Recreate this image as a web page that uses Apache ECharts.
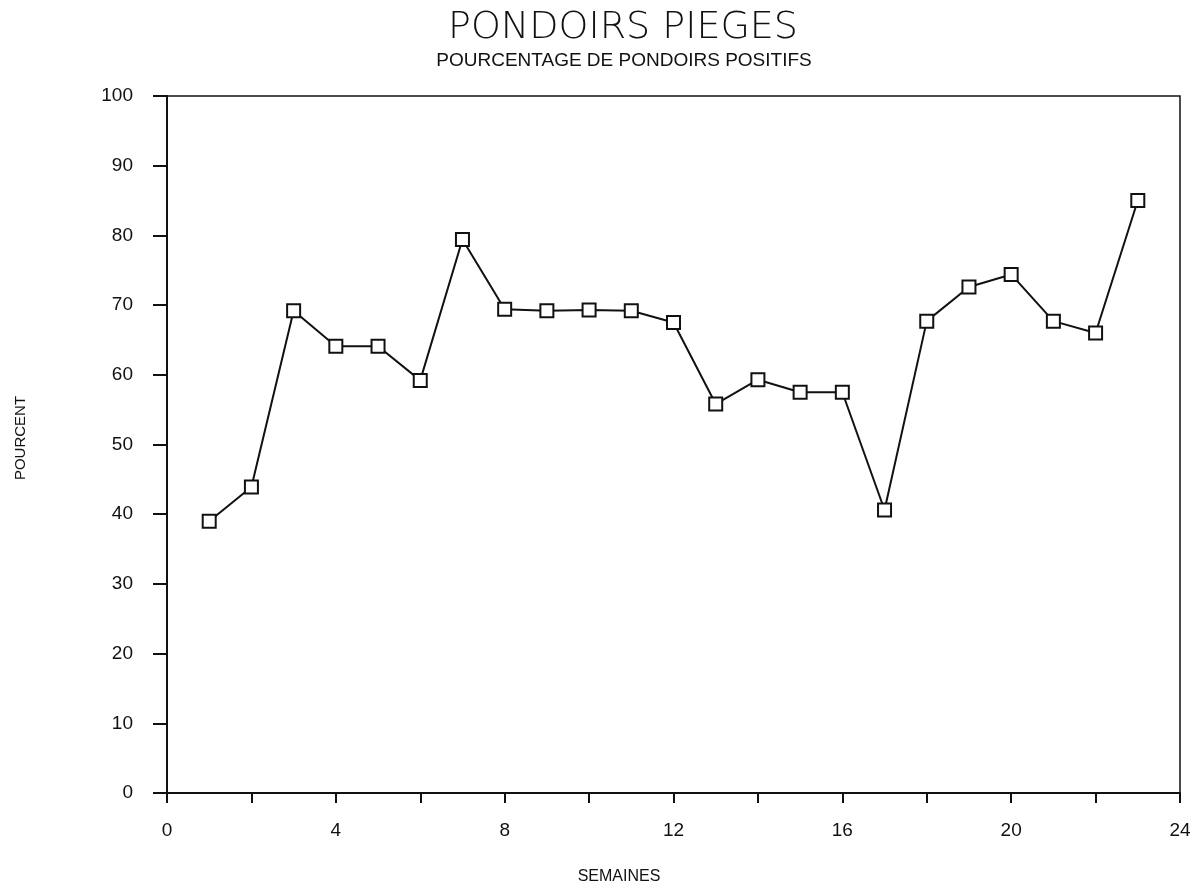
<!DOCTYPE html>
<html>
<head>
<meta charset="utf-8">
<title>PONDOIRS PIEGES</title>
<script src="https://cdn.jsdelivr.net/npm/echarts@6/dist/echarts.min.js"></script>
<style>
  html, body { margin: 0; padding: 0; background: #fff; }
  #chart { width: 1199px; height: 887px; }
</style>
</head>
<body>
<div id="chart"></div>
<script>
// Weekly share of positive egg traps (%)
const weeks = [1, 2, 3, 4, 5, 6, 7, 8, 9, 10, 11, 12, 13, 14, 15, 16, 17, 18, 19, 20, 21, 22, 23];
const percentPositive = [39.0, 43.9, 69.2, 64.1, 64.1, 59.2, 79.4, 69.4, 69.2, 69.3, 69.2, 67.5,
                         55.8, 59.3, 57.5, 57.5, 40.6, 67.7, 72.6, 74.4, 67.7, 66.0, 85.0];
const xTickLabels = [0, 4, 8, 12, 16, 20, 24];
const yTickLabels = [0, 10, 20, 30, 40, 50, 60, 70, 80, 90, 100];

const titleText = 'PONDOIRS PIEGES';
const subtitleText = 'POURCENTAGE DE PONDOIRS POSITIFS';
const xName = 'SEMAINES';
const yName = 'POURCENT';

const points = weeks.map((w, i) => [w, percentPositive[i]]);

const chart = echarts.init(document.getElementById('chart'), null, { renderer: 'canvas' });

const ink = '#111';
const labelFont = 'Liberation Sans, Arial, sans-serif';

chart.setOption({
  backgroundColor: '#fff',
  animation: false,
  grid: {
    left: 167, right: 19, top: 96, bottom: 94,
    show: true, borderColor: ink, borderWidth: 1.5, backgroundColor: 'transparent'
  },
  graphic: [
    { type: 'text', style: { text: titleText, x: 623, y: 28, textAlign: 'center', textVerticalAlign: 'middle',
        font: '200 38px "DejaVu Sans", sans-serif', fill: ink } },
    { type: 'text', style: { text: subtitleText, x: 624, y: 61, textAlign: 'center', textVerticalAlign: 'middle',
        font: '19px "Liberation Sans", Arial, sans-serif', fill: ink } },
    { type: 'text', style: { text: xName, x: 619, y: 877, textAlign: 'center', textVerticalAlign: 'middle',
        font: '16px "Liberation Sans", Arial, sans-serif', fill: ink } },
    { type: 'text', x: 21, y: 438, rotation: Math.PI / 2,
      style: { text: yName, x: 0, y: 0, textAlign: 'center', textVerticalAlign: 'middle',
        font: '15px "Liberation Sans", Arial, sans-serif', fill: ink } }
  ],
  xAxis: {
    type: 'value', min: 0, max: 24, interval: 2,
    axisLine: { show: true, onZero: false, lineStyle: { color: ink, width: 2 } },
    axisTick: { show: true, inside: false, length: 10, lineStyle: { color: ink, width: 2 } },
    axisLabel: {
      margin: 28, color: ink, fontSize: 19, fontFamily: labelFont,
      formatter: v => (xTickLabels.indexOf(v) >= 0 ? String(v) : '')
    },
    splitLine: { show: false }
  },
  yAxis: {
    type: 'value', min: 0, max: 100, interval: 10,
    axisLine: { show: true, onZero: false, lineStyle: { color: ink, width: 2 } },
    axisTick: { show: true, inside: false, length: 14, lineStyle: { color: ink, width: 2 } },
    axisLabel: {
      margin: 34, color: ink, fontSize: 19, fontFamily: labelFont,
      formatter: v => (yTickLabels.indexOf(v) >= 0 ? String(v) : '')
    },
    splitLine: { show: false }
  },
  series: [{
    type: 'line',
    data: points,
    symbol: 'rect',
    symbolSize: 13,
    showAllSymbol: true,
    lineStyle: { color: ink, width: 2 },
    itemStyle: { color: '#fff', borderColor: ink, borderWidth: 2 },
    z: 3
  }]
});
</script>
</body>
</html>
